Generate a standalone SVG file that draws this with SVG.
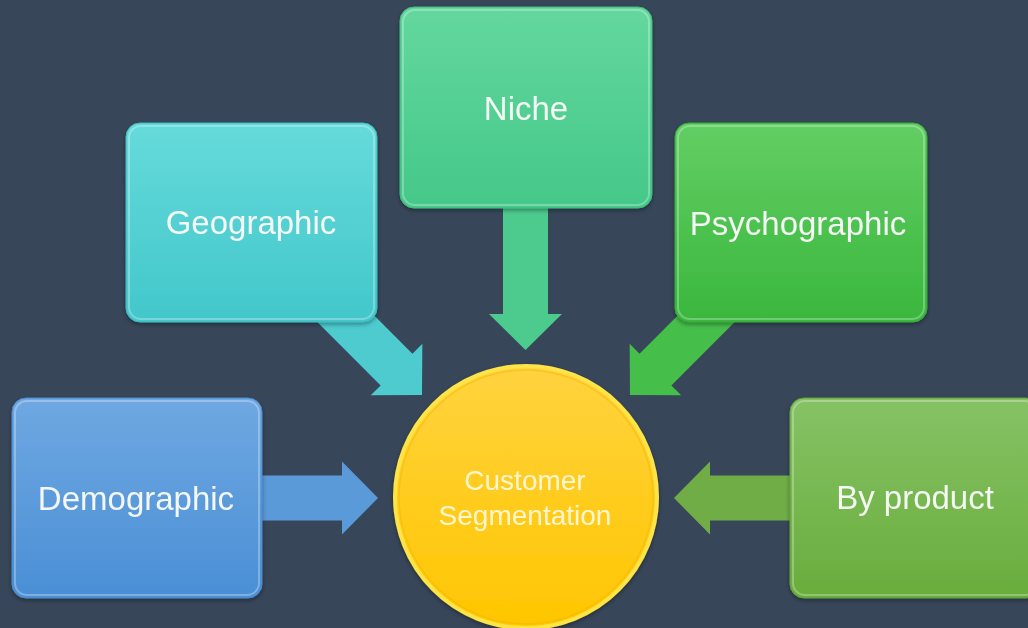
<svg xmlns="http://www.w3.org/2000/svg" width="1028" height="628" viewBox="0 0 1028 628">
<defs>
<style>
.lbl{font-family:"Liberation Sans",Arial,sans-serif;font-size:33px;fill:#F4F7F4;text-anchor:middle}
.clbl{font-family:"Liberation Sans",Arial,sans-serif;font-size:28px;fill:#FFF6D0;text-anchor:middle}
.hl{fill:none;stroke:#ffffff;stroke-opacity:0.28;stroke-width:2}
</style>
<linearGradient id="gBlue" x1="0" y1="0" x2="0" y2="1"><stop offset="0" stop-color="#6FA8E2"/><stop offset="1" stop-color="#4A8FD5"/></linearGradient>
<linearGradient id="gTeal" x1="0" y1="0" x2="0" y2="1"><stop offset="0" stop-color="#66DADA"/><stop offset="1" stop-color="#42C7CB"/></linearGradient>
<linearGradient id="gMint" x1="0" y1="0" x2="0" y2="1"><stop offset="0" stop-color="#64D79E"/><stop offset="1" stop-color="#44C889"/></linearGradient>
<linearGradient id="gGreen" x1="0" y1="0" x2="0" y2="1"><stop offset="0" stop-color="#63CE64"/><stop offset="1" stop-color="#3AB73D"/></linearGradient>
<linearGradient id="gOlive" x1="0" y1="0" x2="0" y2="1"><stop offset="0" stop-color="#86C265"/><stop offset="1" stop-color="#69AD3C"/></linearGradient>
<linearGradient id="gYellow" x1="0" y1="0" x2="0" y2="1"><stop offset="0" stop-color="#FFD33F"/><stop offset="1" stop-color="#FFC600"/></linearGradient>
<filter id="sh" x="-10%" y="-10%" width="120%" height="125%"><feDropShadow dx="0" dy="2" stdDeviation="2" flood-color="#000" flood-opacity="0.35"/></filter>
<path id="arr" d="M-150,-22.5 L-36,-22.5 L-36,-36.5 L0,0 L-36,36.5 L-36,22.5 L-150,22.5 Z"/>
</defs>
<rect width="1028" height="628" fill="#374659"/>
<g id="connectors">
<use href="#arr" transform="translate(378,498)" fill="#5A9AD8"/>
<use href="#arr" transform="translate(422,395) rotate(45)" fill="#4DCBCF"/>
<use href="#arr" transform="translate(525.5,350) rotate(90)" fill="#4DCB8E"/>
<use href="#arr" transform="translate(630,395) rotate(135)" fill="#46BE4A"/>
<use href="#arr" transform="translate(674,498) rotate(180)" fill="#70AD47"/>
</g>
<g id="demographic" filter="url(#sh)">
<rect x="12" y="398" width="250" height="200" rx="14" fill="url(#gBlue)" stroke="#4A88C8" stroke-width="1"/>
<rect x="15" y="401" width="244" height="194" rx="12" class="hl"/>
<text x="136" y="510" class="lbl">Demographic</text>
</g>
<g id="geographic" filter="url(#sh)">
<rect x="126" y="123" width="251" height="199" rx="14" fill="url(#gTeal)" stroke="#3EB8BC" stroke-width="1"/>
<rect x="129" y="126" width="245" height="193" rx="12" class="hl"/>
<text x="251" y="234" class="lbl">Geographic</text>
</g>
<g id="niche" filter="url(#sh)">
<rect x="400" y="7" width="252" height="201" rx="14" fill="url(#gMint)" stroke="#3FB87E" stroke-width="1"/>
<rect x="403" y="10" width="246" height="195" rx="12" class="hl"/>
<text x="526" y="120" class="lbl">Niche</text>
</g>
<g id="psychographic" filter="url(#sh)">
<rect x="675" y="123" width="252" height="199" rx="14" fill="url(#gGreen)" stroke="#35A838" stroke-width="1"/>
<rect x="678" y="126" width="246" height="193" rx="12" class="hl"/>
<text x="798" y="235" class="lbl">Psychographic</text>
</g>
<g id="byproduct" filter="url(#sh)">
<rect x="790" y="398" width="250" height="200" rx="14" fill="url(#gOlive)" stroke="#609E38" stroke-width="1"/>
<rect x="793" y="401" width="244" height="194" rx="12" class="hl"/>
<text x="915" y="509" class="lbl">By product</text>
</g>
<g id="customer-segmentation" filter="url(#sh)">
<circle cx="526" cy="497" r="131" fill="url(#gYellow)" stroke="#FFE447" stroke-width="4"/>
<circle cx="526" cy="497" r="127" fill="none" stroke="#F2B800" stroke-opacity="0.5" stroke-width="1.5"/>
<text x="525" y="490" class="clbl">Customer</text>
<text x="525" y="525" class="clbl">Segmentation</text>
</g>
</svg>
